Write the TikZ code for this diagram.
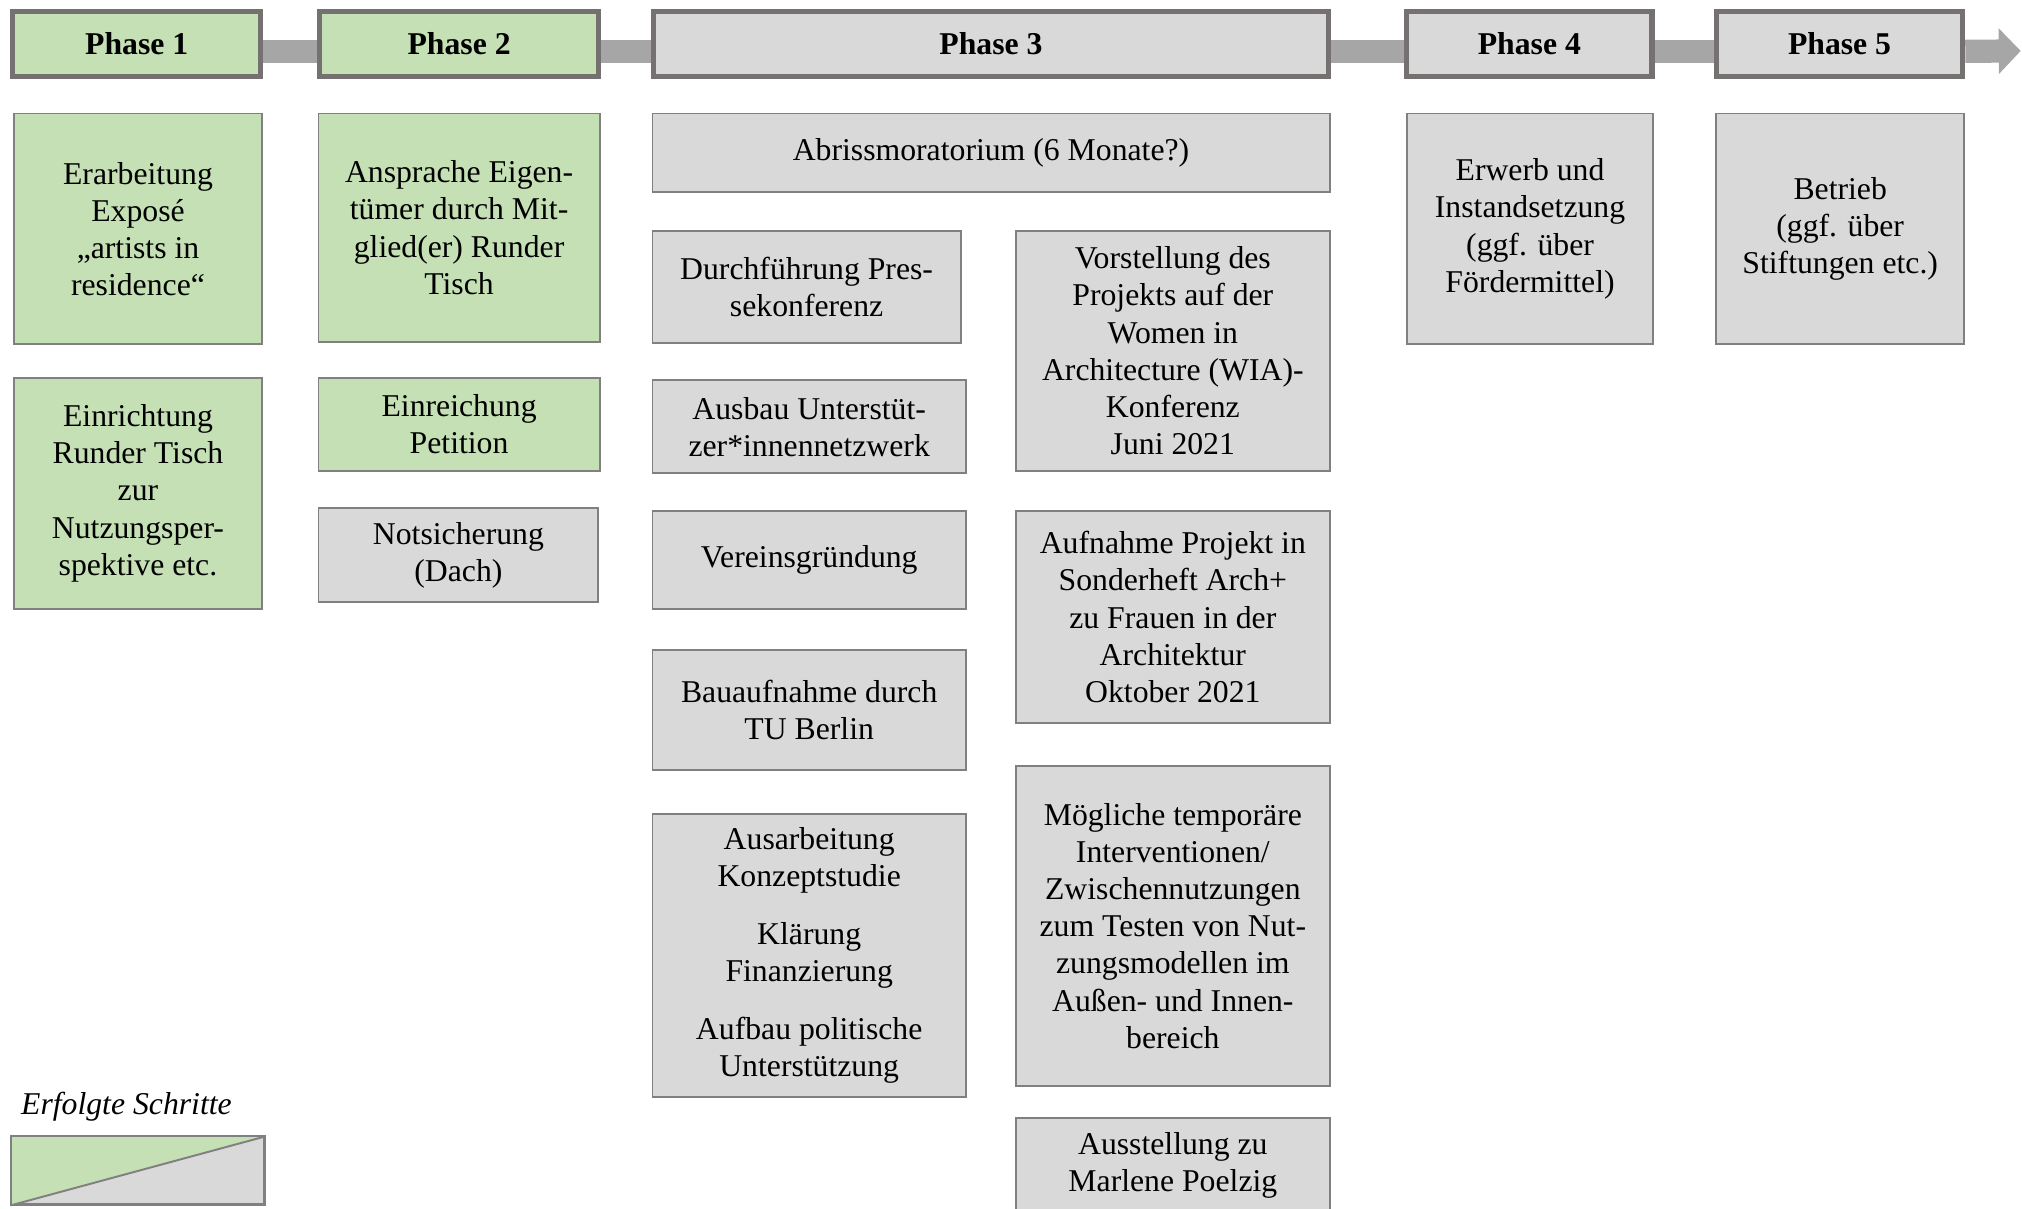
\documentclass[tikz,border=0pt]{standalone}
\usepackage{fontspec}
\setmainfont{Liberation Serif}
\usetikzlibrary{arrows.meta,backgrounds}
\definecolor{greenfill}{HTML}{C5E0B4}
\definecolor{grayfill}{HTML}{D9D9D9}
\definecolor{hdrline}{HTML}{767171}
\definecolor{boxline}{HTML}{808080}
\definecolor{barcol}{HTML}{A6A6A6}
\tikzset{
  txt/.style={font=\fontsize{12.3pt}{14.4pt}\selectfont},
  rbox/.style args={#1/#2/#3/#4}{at={({(#1+#3)/2},{(#2+#4)/2})},
     minimum width={(#3-#1)*0.5pt}, minimum height={(#4-#2)*0.5pt}},
  hdr/.style={draw=hdrline, line width=2pt, inner sep=0pt, font=\fontsize{12.3pt}{14.4pt}\selectfont\bfseries},
  box/.style={draw=boxline, line width=0.75pt, inner sep=0pt, align=center, txt},
  done/.style={fill=greenfill},
  todo/.style={fill=grayfill},
  bar/.style={draw=barcol, line width=9pt},
}
\begin{document}
\begin{tikzpicture}[x=0.5pt,y=-0.5pt]
\clip (0,0) rectangle (1568,937);
% headers
\node[hdr,done,rbox=10/9/202/59] (p1) {Phase 1};
\node[hdr,done,rbox=248/9/464/59] (p2) {Phase 2};
\node[hdr,todo,rbox=507/9/1030/59] (p3) {Phase 3};
\node[hdr,todo,rbox=1091/9/1281/59] (p4) {Phase 4};
\node[hdr,todo,rbox=1331/9/1522/59] (p5) {Phase 5};
\coordinate (tip) at (1567,39.5);
\begin{scope}[on background layer]
  \draw[bar] ([yshift=-2.9pt]p1.east) -- ([yshift=-2.9pt]p2.west);
  \draw[bar] ([yshift=-2.9pt]p2.east) -- ([yshift=-2.9pt]p3.west);
  \draw[bar] ([yshift=-2.9pt]p3.east) -- ([yshift=-2.9pt]p4.west);
  \draw[bar] ([yshift=-2.9pt]p4.east) -- ([yshift=-2.9pt]p5.west);
  \draw[bar,-{Triangle[length=8.5pt,width=17.2pt]}] ([yshift=-2.9pt]p5.east) -- (tip);
\end{scope}
% column 1
\node[box,done,rbox=11/88/203/267] (b11) {Erarbeitung\\Exposé\\„artists in\\residence“};
\node[box,done,rbox=11/293/203/472] (b12) {Einrichtung\\Runder Tisch\\zur\\Nutzungsper-\\spektive etc.};
% column 2
\node[box,done,rbox=247/88/465/265] (b21) {Ansprache Eigen-\\tümer durch Mit-\\glied(er) Runder\\Tisch};
\node[box,done,rbox=247/293/465/365] (b22) {Einreichung\\Petition};
\node[box,todo,rbox=247/394/464/467] (b23) {Notsicherung\\(Dach)};
% column 3
\node[box,todo,rbox=506/88/1031/149] (b31) {Abrissmoratorium (6 Monate?)};
\node[box,todo,rbox=506/179/745/266] (b32) {Durchführung Pres-\\sekonferenz};
\node[box,todo,rbox=506/295/749/367] (b33) {Ausbau Unterstüt-\\zer*innennetzwerk};
\node[box,todo,rbox=506/396/749/472] (b34) {Vereinsgründung};
\node[box,todo,rbox=506/504/749/597] (b35) {Bauaufnahme durch\\TU Berlin};
\node[box,todo,rbox=506/631/749/851] (b36) {Ausarbeitung\\Konzeptstudie\\[8pt]Klärung\\Finanzierung\\[8pt]Aufbau politische\\Unterstützung};
% column 4
\node[box,todo,rbox=788/179/1031/365] (b41) {Vorstellung des\\Projekts auf der\\Women in\\Architecture (WIA)-\\Konferenz\\Juni 2021};
\node[box,todo,rbox=788/396/1031/561] (b42) {Aufnahme Projekt in\\Sonderheft Arch+\\zu Frauen in der\\Architektur\\Oktober 2021};
\node[box,todo,rbox=788/594/1031/842] (b43) {Mögliche temporäre\\Interventionen/\\Zwischennutzungen\\zum Testen von Nut-\\zungsmodellen im\\Außen- und Innen-\\bereich};
\node[box,todo,rbox=788/867/1031/941] (b44) {Ausstellung zu\\Marlene Poelzig};
% phases 4 and 5
\node[box,todo,rbox=1091/88/1282/267] (b51) {Erwerb und\\Instandsetzung\\(ggf. über\\Fördermittel)};
\node[box,todo,rbox=1331/88/1523/267] (b61) {Betrieb\\(ggf. über\\Stiftungen etc.)};
% legend
\node[font=\fontsize{12.3pt}{14.4pt}\selectfont\itshape,anchor=west,inner sep=0pt] (legtxt) at (16,858) {Erfolgte Schritte};
\node[box,todo,rbox=9/882/205/934] (legend) {};
\fill[greenfill] (legend.south west) -- (legend.north west) -- (legend.north east) -- cycle;
\draw[boxline,line width=0.75pt] (legend.south west) -- (legend.north east);
\draw[boxline,line width=0.75pt] (legend.south west) rectangle (legend.north east);
\end{tikzpicture}
\end{document}
